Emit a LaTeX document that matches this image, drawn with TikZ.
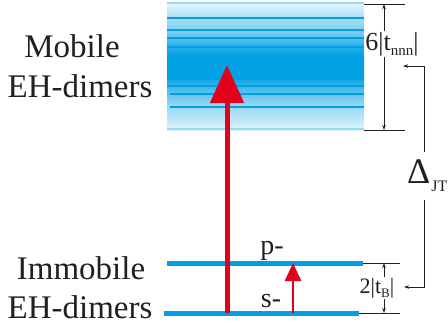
\documentclass[tikz,border=0pt]{standalone}
\usepackage{fontspec}
\setmainfont{Liberation Serif}
\usetikzlibrary{arrows.meta}
\definecolor{ebl}{RGB}{0,160,227}
\definecolor{ered}{RGB}{226,0,26}
\definecolor{etxt}{RGB}{35,31,32}
\pgfdeclareverticalshading{bandshade}{100bp}{color(0bp)=(white); color(25bp)=(ebl!10); color(29bp)=(ebl!25); color(35bp)=(ebl!42); color(41bp)=(ebl!70); color(46bp)=(ebl); color(54bp)=(ebl); color(58bp)=(ebl!85); color(63bp)=(ebl!55); color(69bp)=(ebl!35); color(75bp)=(ebl!10); color(100bp)=(white)}
\begin{document}
\begin{tikzpicture}[x=1pt,y=-1pt,
  lbl/.style={text=etxt,inner sep=0pt,font=\fontsize{33}{36}\selectfont},
  lvl/.style={ebl,line width=5pt},
  band/.style={ebl,line width=2.2pt},
  edge/.style={ebl!40,line width=2pt},
  dimln/.style={etxt,line width=0.8pt},
  dimarr/.style={etxt,line width=0.8pt,{Stealth[length=5pt,width=3.5pt]}-{Stealth[length=5pt,width=3.5pt]}},
  onearr/.style={etxt,line width=0.8pt,-{Stealth[length=5pt,width=3.5pt]}},
  dimlbl/.style={text=etxt,fill=white,inner sep=1pt}]
\useasboundingbox (0,0) rectangle (448,325);
% mobile band
\shade[shading=bandshade] (167,3) rectangle (364,130);
\draw[edge] (167,3) -- (364,3);
\draw[edge] (167,129) -- (364,129);
\foreach \yy in {18,30,38} \draw[band] (167,\yy) -- (364,\yy);
\draw[band,line width=1.5pt] (167,47) -- (364,47);
\draw[band,line width=1.5pt] (167,79) -- (364,79);
\draw[band] (167,86) -- (364,86);
\foreach \yy in {94,107} \draw[band] (170,\yy) -- (364,\yy);
% immobile levels
\coordinate (pL) at (167,263); \coordinate (pR) at (363,263);
\coordinate (sL) at (164,313); \coordinate (sR) at (359,313);
\draw[lvl] (pL) -- (pR);
\draw[lvl] (sL) -- (sR);
% arrows
\coordinate (bigS) at (227,313); \coordinate (bigE) at (227,65);
\draw[ered,line width=5pt,-{Triangle[width=33pt,length=38pt]}] (bigS) -- (bigE);
\coordinate (smS) at (293,313); \coordinate (smE) at (293,263);
\draw[ered,line width=2.5pt,-{Triangle[width=16pt,length=18pt]}] (smS) -- (smE);
% labels
\node[lbl,anchor=base] (mob) at (72,57) {Mobile};
\node[lbl,anchor=base] (eh1) at (80,97) {EH-dimers};
\node[lbl,anchor=base] (imm) at (81,279) {Immobile};
\node[lbl,anchor=base] (eh2) at (80,318) {EH-dimers};
\node[text=etxt,inner sep=0pt,anchor=base,font=\fontsize{28}{30}\selectfont] (plab) at (272,254) {p-};
\node[text=etxt,inner sep=0pt,anchor=base,font=\fontsize{28}{30}\selectfont] (slab) at (271,307) {s-};
% 6|tnnn| dimension
\coordinate (t1) at (364,4); \coordinate (t2) at (405,4);
\coordinate (b1) at (364,130); \coordinate (b2) at (405,130);
\draw[dimln] (t1) -- (t2);
\draw[dimln] (b1) -- (b2);
\draw[dimarr] (384,4) -- (384,130);
\node[dimlbl,font=\fontsize{26}{26}\selectfont] (tnnn) at (392,44) {6|t\raisebox{-5pt}{\fontsize{15}{15}\selectfont nnn}|};
% 2|tB| dimension
\coordinate (u1) at (363,263); \coordinate (u2) at (400,263);
\coordinate (v1) at (359,313); \coordinate (v2) at (400,313);
\draw[dimln] (u1) -- (u2);
\draw[dimln] (v1) -- (v2);
\draw[dimarr] (384,263) -- (384,313);
\node[dimlbl,font=\fontsize{22}{22}\selectfont] (tB) at (377,288) {2|t\raisebox{-4pt}{\fontsize{13}{13}\selectfont B}|};
% Delta_JT
\node[text=etxt,inner sep=0pt,anchor=base west] (dJT) at (407,183) {\fontsize{36}{36}\selectfont Δ\kern1pt\raisebox{-8pt}{\fontsize{16}{16}\selectfont JT}};
\coordinate (a1) at (424,152); \coordinate (a2) at (424,66); \coordinate (a3) at (403,66);
\coordinate (c1) at (424,200); \coordinate (c2) at (424,287); \coordinate (c3) at (404,287);
\draw[onearr] (a1) -- (a2) -- (a3);
\draw[onearr] (c1) -- (c2) -- (c3);
\end{tikzpicture}
\end{document}
